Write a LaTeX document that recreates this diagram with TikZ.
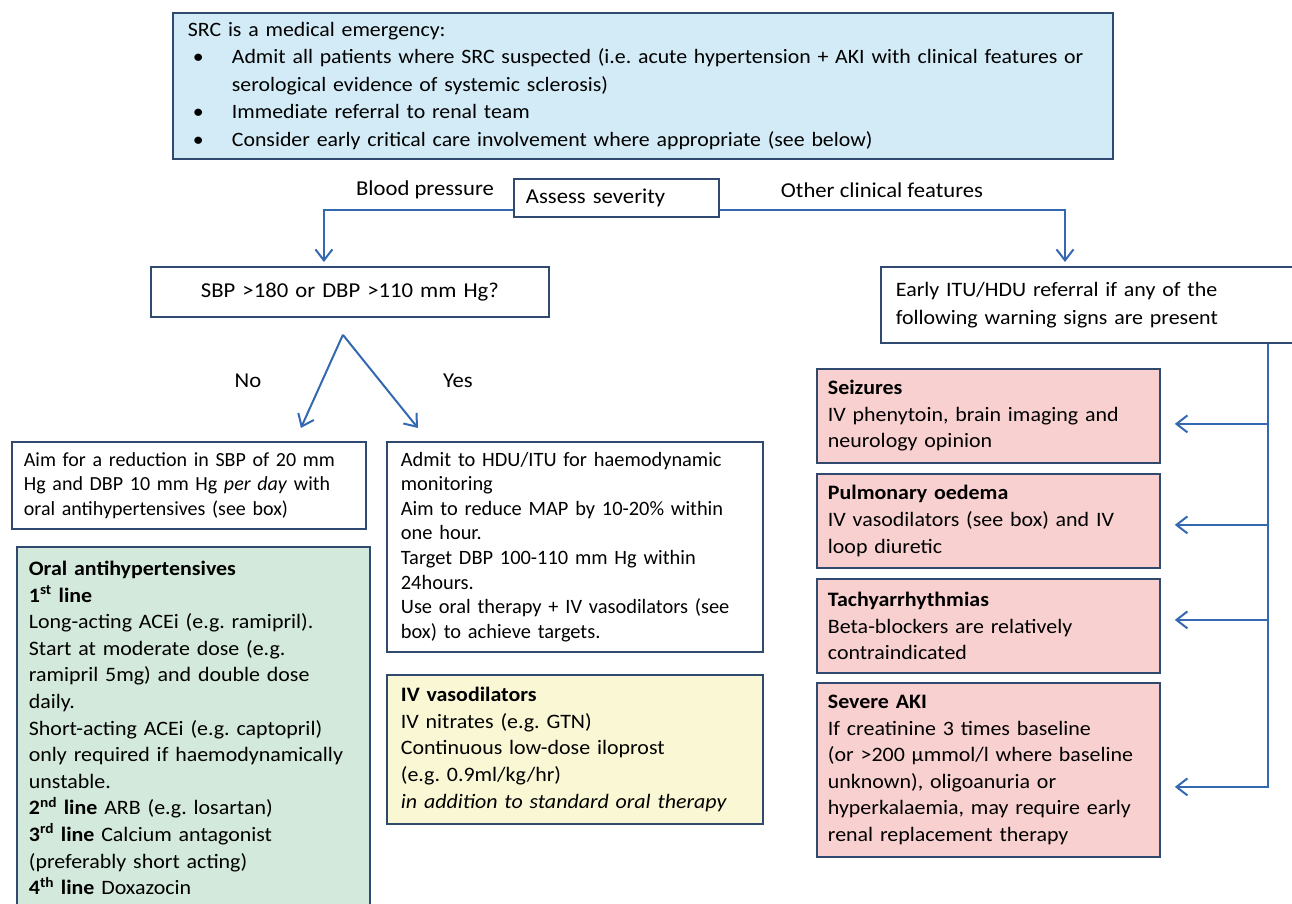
\documentclass[tikz,border=0pt]{standalone}
\usepackage{fontspec}
\setmainfont{Carlito}[FakeStretch=1.07]
\newfontfamily\plainf{Carlito}
\frenchspacing
\usetikzlibrary{arrows.meta}
\definecolor{bordc}{HTML}{2F4A6E}
\definecolor{arrc}{HTML}{3468B0}
\definecolor{bluef}{HTML}{D2EBF6}
\definecolor{greenf}{HTML}{D3E9DC}
\definecolor{yellowf}{HTML}{FAF7D4}
\definecolor{redf}{HTML}{F8D0D0}
\tikzset{
  box/.style={draw=bordc, line width=1.8pt, anchor=north west, align=left, inner ysep=0pt,
    font=\fontsize{20.5}{26.6}\selectfont},
  lbl/.style={font=\fontsize{21.2}{24}\selectfont, inner sep=0pt},
  conn/.style={draw=arrc, line width=2pt},
  arr/.style={conn, -{Straight Barb[length=11pt,width=17pt,line width=2pt]}},
}
\begin{document}
\begin{tikzpicture}[x=1pt,y=-1pt]
\clip (0,0) rectangle (1292,903);
\fill[white] (0,0) rectangle (1292,903);

% top box
\node[box, fill=bluef, minimum width=940pt, minimum height=146pt, text width=910pt, inner xsep=15pt,
  font=\fontsize{20.4}{27.5}\selectfont] (top) at (172,12)
 {SRC is a medical emergency:\\
  \makebox[44pt][l]{\hspace{5pt}\textbullet}Admit all patients where SRC suspected (i.e. acute hypertension + AKI with clinical features or\\
  \hspace*{44pt}serological evidence of systemic sclerosis)\\
  \makebox[44pt][l]{\hspace{5pt}\textbullet}Immediate referral to renal team\\
  \makebox[44pt][l]{\hspace{5pt}\textbullet}Consider early critical care involvement where appropriate (see below)};

% assess
\node[box, minimum width=205pt, minimum height=38pt, text width=181pt, inner xsep=12pt,
  font=\fontsize{21.2}{26}\selectfont] (assess) at (513,178) {Assess severity};
\node[lbl] (bp) at (425,190) {Blood pressure};
\node[lbl] (ocf) at (882,190) {Other clinical features};

% SBP
\node[box, align=center, minimum width=398pt, minimum height=50pt, text width=370pt, inner xsep=14pt,
  font=\fontsize{21.2}{26}\selectfont] (sbp) at (150,266) {SBP >180 or DBP >110 mm Hg?};

% ITU
\node[box, minimum width=430pt, minimum height=76pt, text width=400pt, inner xsep=15pt,
  font=\fontsize{20.5}{28}\selectfont] (itu) at (880,266)
 {Early ITU/HDU referral if any of the\\following warning signs are present};

\node[lbl] (no) at (248,381) {No};
\node[lbl] (yes) at (458,381) {Yes};

% Aim
\node[box, minimum width=354pt, minimum height=87pt, text width=330pt, inner xsep=12pt,
  font=\plainf\fontsize{20}{24.5}\selectfont] (aim) at (11,441)
 {Aim for a reduction in SBP of 20 mm\\Hg and DBP 10 mm Hg \textit{per day} with\\oral antihypertensives (see box)};

% green
\node[box, fill=greenf, minimum width=353pt, minimum height=362pt, text width=329pt, inner xsep=12pt] (oral) at (16,546)
 {\textbf{Oral antihypertensives}\\
  \textbf{1\textsuperscript{st} line}\\
  Long-acting ACEi (e.g. ramipril).\\
  Start at moderate dose (e.g.\\
  ramipril 5mg) and double dose\\
  daily.\\
  Short-acting ACEi (e.g. captopril)\\
  only required if haemodynamically\\
  unstable.\\
  \textbf{2\textsuperscript{nd} line} ARB (e.g. losartan)\\
  \textbf{3\textsuperscript{rd} line} Calcium antagonist\\
  (preferably short acting)\\
  \textbf{4\textsuperscript{th} line} Doxazocin};

% admit
\node[box, minimum width=376pt, minimum height=210pt, text width=348pt, inner xsep=14pt,
  font=\plainf\fontsize{20.4}{24.6}\selectfont] (admit) at (386,441)
 {Admit to HDU/ITU for haemodynamic\\
  monitoring\\
  Aim to reduce MAP by 10-20\% within\\
  one hour.\\
  Target DBP 100-110 mm Hg within\\
  24hours.\\
  Use oral therapy + IV vasodilators (see\\
  box) to achieve targets.};

% yellow
\node[box, fill=yellowf, minimum width=376pt, minimum height=149pt, text width=348pt, inner xsep=14pt] (ivv) at (386,674)
 {\textbf{IV vasodilators}\\
  IV nitrates (e.g. GTN)\\
  Continuous low-dose iloprost\\
  (e.g. 0.9ml/kg/hr)\\
  \textit{in addition to standard oral therapy}};

% red boxes
\node[box, fill=redf, minimum width=343pt, minimum height=94pt, text width=321pt, inner xsep=11pt] (seiz) at (816,368)
 {\textbf{Seizures}\\IV phenytoin, brain imaging and\\neurology opinion};
\node[box, fill=redf, minimum width=343pt, minimum height=94pt, text width=321pt, inner xsep=11pt] (pulm) at (816,473)
 {\textbf{Pulmonary oedema}\\IV vasodilators (see box) and IV\\loop diuretic};
\node[box, fill=redf, minimum width=343pt, minimum height=94pt, text width=321pt, inner xsep=11pt] (tachy) at (816,578)
 {\textbf{Tachyarrhythmias}\\Beta-blockers are relatively\\contraindicated};
\node[box, fill=redf, minimum width=343pt, minimum height=174pt, text width=321pt, inner xsep=11pt] (aki) at (816,682)
 {\textbf{Severe AKI}\\If creatinine 3 times baseline\\(or >200 µmmol/l where baseline\\unknown), oligoanuria or\\hyperkalaemia, may require early\\renal replacement therapy};

% connectors
\draw[arr] ([yshift=8pt]assess.south west) -| ([xshift=-26pt,yshift=4pt]sbp.north);
\draw[arr] ([yshift=8pt]assess.south east) -| ([xshift=185pt,yshift=4pt]itu.north west);
\coordinate (apex) at ([xshift=-7pt,yshift=-17pt]sbp.south);
\draw[arr] (apex) -- ([xshift=112pt,yshift=13pt]aim.north);
\draw[arr] (apex) -- ([xshift=-157pt,yshift=13pt]admit.north);

\coordinate (trunk) at ([xshift=388pt]itu.south west);
\coordinate (s1) at ([xshift=14pt,yshift=-8pt]seiz.east);
\coordinate (s2) at ([xshift=14pt,yshift=-4pt]pulm.east);
\coordinate (s3) at ([xshift=14pt,yshift=6pt]tachy.east);
\coordinate (s4) at ([xshift=14pt,yshift=-17pt]aki.east);
\draw[arr] (trunk) |- (s4);
\draw[arr] (trunk |- s1) -- (s1);
\draw[arr] (trunk |- s2) -- (s2);
\draw[arr] (trunk |- s3) -- (s3);
\end{tikzpicture}
\end{document}
